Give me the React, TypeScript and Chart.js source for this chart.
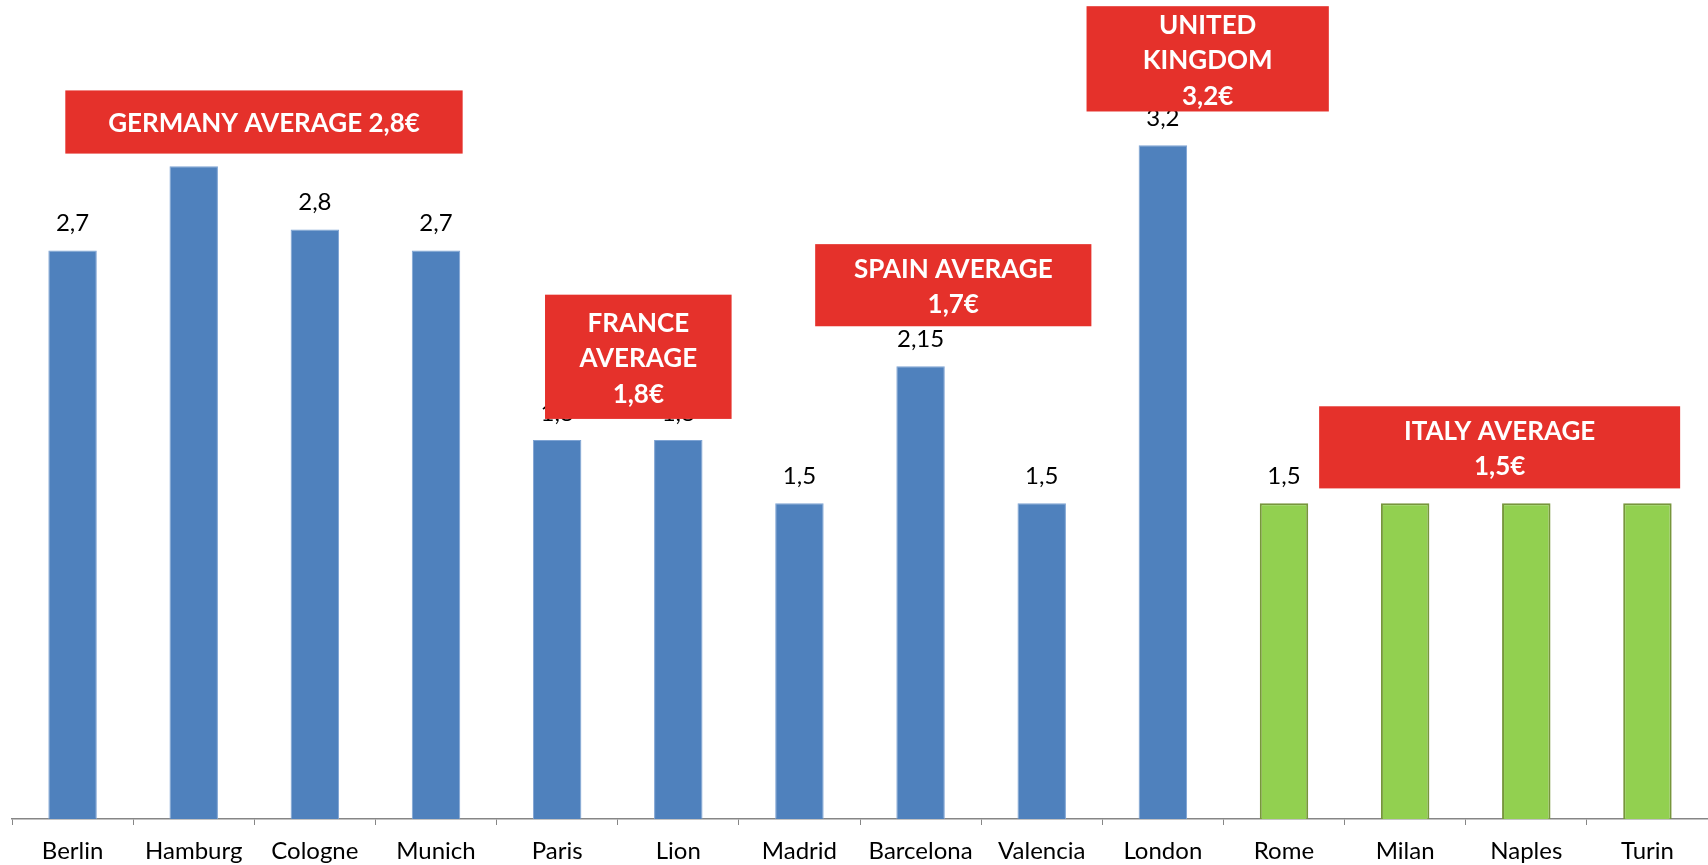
import React, { useEffect, useRef } from "react";
import { Chart, registerables } from "chart.js";

Chart.register(...registerables);

const cities = ["Berlin", "Hamburg", "Cologne", "Munich", "Paris", "Lion", "Madrid", "Barcelona", "Valencia", "London", "Rome", "Milan", "Naples", "Turin"];
const countries = ["Germany", "Germany", "Germany", "Germany", "France", "France", "Spain", "Spain", "Spain", "UK", "Italy", "Italy", "Italy", "Italy"];
const prices = [2.7, 3.1, 2.8, 2.7, 1.8, 1.8, 1.5, 2.15, 1.5, 3.2, 1.5, 1.5, 1.5, 1.5];

// Average callouts: lines of text, and extent in (category index, value) units
const calloutLines = [
  ["GERMANY AVERAGE 2,8€"],
  ["FRANCE", "AVERAGE", "1,8€"],
  ["SPAIN AVERAGE", "1,7€"],
  ["UNITED", "KINGDOM", "3,2€"],
  ["ITALY AVERAGE", "1,5€"],
];
const calloutX = [[-0.06, 3.22], [3.9, 5.44], [6.13, 8.41], [8.37, 10.37], [10.29, 13.27]];
const calloutY = [[3.46, 3.16], [2.49, 1.9], [2.73, 2.34], [3.86, 3.36], [1.96, 1.57]];

const FONT = "Lato, 'Open Sans', sans-serif";

const overlayPlugin = {
  id: "overlay",
  afterDatasetsDraw(chart: any) {
    const ctx = chart.ctx;
    const meta = chart.getDatasetMeta(0);
    const x = chart.scales.x;
    const y = chart.scales.y;
    ctx.save();
    // value labels
    ctx.fillStyle = "#000";
    ctx.font = `24px ${FONT}`;
    ctx.textAlign = "center";
    ctx.textBaseline = "middle";
    meta.data.forEach((bar: any, i: number) => {
      const txt = String(prices[i]).replace(".", ",");
      ctx.fillText(txt, bar.x, bar.y - 27);
    });
    // callouts
    calloutLines.forEach((lines, k) => {
      const x0 = x.getPixelForValue(calloutX[k][0]);
      const x1 = x.getPixelForValue(calloutX[k][1]);
      const y0 = y.getPixelForValue(calloutY[k][0]);
      const y1 = y.getPixelForValue(calloutY[k][1]);
      ctx.fillStyle = "#E5312B";
      ctx.fillRect(x0, y0, x1 - x0, y1 - y0);
      ctx.fillStyle = "#fff";
      ctx.font = `bold 26px ${FONT}`;
      const lh = 35.5;
      const cy = (y0 + y1) / 2;
      const cx = (x0 + x1) / 2;
      lines.forEach((ln, j) => {
        ctx.fillText(ln, cx, cy + (j - (lines.length - 1) / 2) * lh + 2);
      });
    });
    ctx.restore();
  },
};

export default function App() {
  const ref = useRef<HTMLCanvasElement>(null);
  useEffect(() => {
    const isItaly = countries.map((c) => c === "Italy");
    const chart = new Chart(ref.current!, {
      type: "bar",
      data: {
        labels: cities,
        datasets: [
          {
            data: prices,
            backgroundColor: isItaly.map((it) => (it ? "#92D050" : "#4F81BD")),
            borderColor: isItaly.map((it) => (it ? "#77963C" : "#7EA3D3")),
            borderWidth: isItaly.map((it) => (it ? 2 : 1)),
            barPercentage: 0.4,
            categoryPercentage: 1,
          },
        ],
      },
      options: {
        animation: false,
        responsive: false,
        maintainAspectRatio: false,
        layout: { padding: { top: 82, left: 12, right: 0, bottom: 0 } },
        plugins: { legend: { display: false }, tooltip: { enabled: false } },
        scales: {
          x: {
            grid: { display: true, drawOnChartArea: false, drawTicks: true, tickLength: 6, color: "#868686", offset: true },
            border: { display: true, color: "#868686", width: 1.5 },
            ticks: { color: "#000", font: { family: FONT, size: 24 }, padding: 12, maxRotation: 0, autoSkip: false },
            afterFit: (s: any) => { s.height = 46; },
          },
          y: { display: false, min: 0, max: 3.5 },
        },
      },
      plugins: [overlayPlugin],
    });
    return () => chart.destroy();
  }, []);
  return (
    <div style={{ position: "fixed", left: 0, top: 0, width: 1708, height: 865, background: "#fff" }}>
      <canvas ref={ref} width={1708} height={865} style={{ display: "block" }} />
    </div>
  );
}
